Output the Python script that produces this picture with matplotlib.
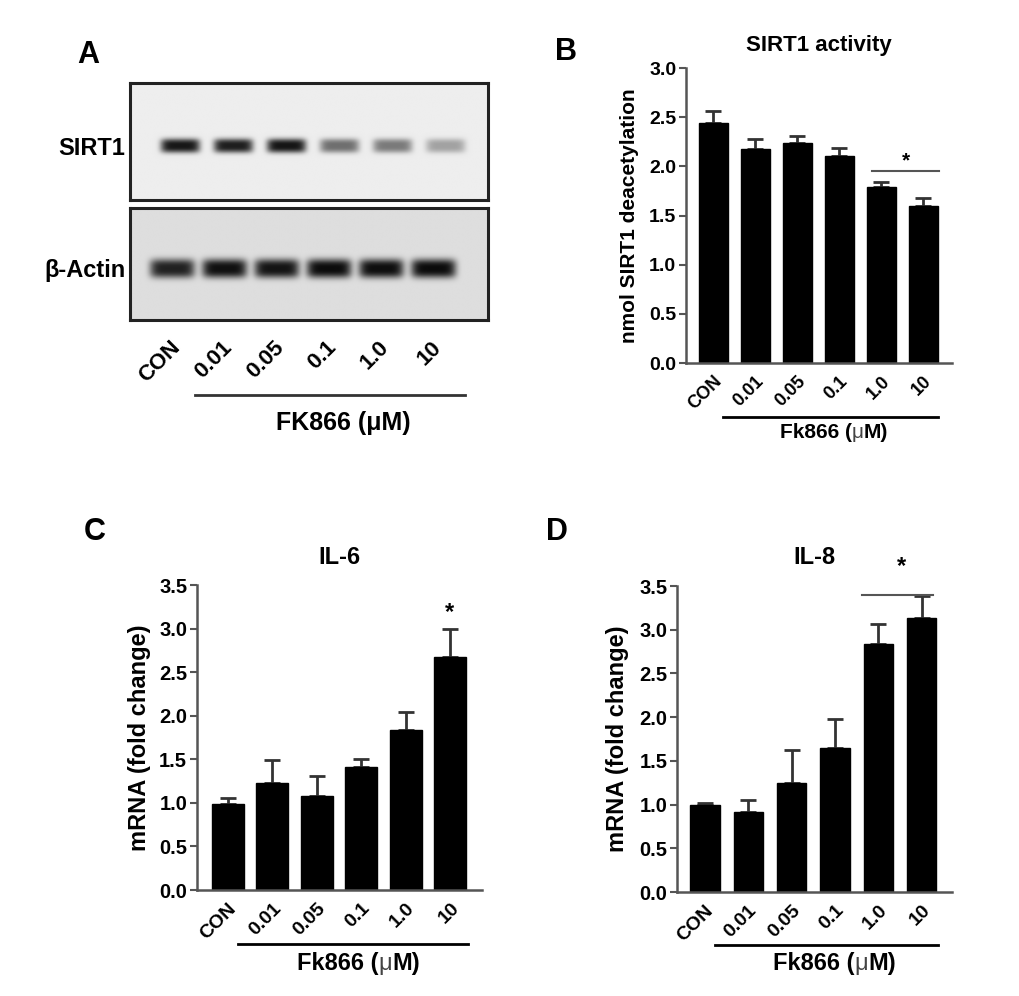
import matplotlib
matplotlib.use("Agg")
import matplotlib.pyplot as plt
import numpy as np

plt.rcParams['font.family'] = ['Liberation Sans', 'DejaVu Sans']
plt.rcParams['font.weight'] = 'bold'
plt.rcParams['axes.labelweight'] = 'bold'

# data
lanes = ['CON', '0.01', '0.05', '0.1', '1.0', '10']
sirt1_act = [2.44, 2.18, 2.24, 2.11, 1.79, 1.60]
sirt1_err = [0.12, 0.10, 0.07, 0.08, 0.05, 0.08]
il6 = [0.99, 1.23, 1.08, 1.41, 1.84, 2.67]
il6_err = [0.07, 0.26, 0.23, 0.09, 0.20, 0.33]
il8 = [0.99, 0.915, 1.25, 1.65, 2.84, 3.13]
il8_err = [0.03, 0.135, 0.37, 0.33, 0.23, 0.26]
# relative band darkness on the blot (0 = none, 1 = black)
sirt1_band = [0.93, 0.90, 0.94, 0.55, 0.50, 0.33]
actin_band = [0.88, 0.96, 0.94, 0.98, 0.97, 0.98]

fig = plt.figure(figsize=(10.2, 9.96), dpi=100)
x = np.arange(len(lanes))
spine_c = '#555555'


def blot(ax, dark, xlim, yc, hw, hh, bg):
    xs = np.linspace(xlim[0], xlim[1], 500)
    ys = np.linspace(0, 1, 200)
    X, Y = np.meshgrid(xs, ys)
    img = np.full(X.shape, bg)
    for i, d in enumerate(dark):
        prof = d * np.exp(-((X - i) / hw) ** 6) * np.exp(-np.abs((Y - yc) / hh) ** 3)
        img = img - (bg - 0.03) * prof
    ax.imshow(img, cmap='gray', vmin=0, vmax=1, extent=(xlim[0], xlim[1], 0, 1),
              origin='lower', aspect='auto', interpolation='bilinear')
    ax.set_xlim(xlim)
    ax.set_ylim(0, 1)
    ax.set_xticks([])
    ax.set_yticks([])
    for s in ax.spines.values():
        s.set_linewidth(2.2)
        s.set_color('#222222')


def unit_label(ax, xl, y, fs):
    # "Fk866 (µM)" with a thin mu, as in the original
    tr = ax.get_xaxis_transform()
    t = ax.text(xl, y, 'Fk866 (', transform=tr, ha='left', va='center', fontsize=fs)
    t2 = ax.annotate('μ', xy=(1, 0), xycoords=t, ha='left', va='bottom',
                     fontsize=fs, fontweight='normal', color='#444444')
    ax.annotate('M)', xy=(1, 0), xycoords=t2, ha='left', va='bottom', fontsize=fs)


# ---- panel A: western blot
axt = fig.add_axes([0.1275, 0.7992, 0.3510, 0.1175])
blot(axt, sirt1_band, (-0.943, 5.81), 0.46, 0.37, 0.06, 0.93)
axt.text(-0.014, 0.444, 'SIRT1', transform=axt.transAxes, ha='right', va='center', fontsize=17)
axb = fig.add_axes([0.1275, 0.6787, 0.3510, 0.1124])
blot(axb, actin_band, (-0.805, 6.054), 0.46, 0.43, 0.085, 0.87)
axb.text(-0.011, 0.446, 'β-Actin', transform=axb.transAxes, ha='right', va='center', fontsize=17)
for i, lab in enumerate(lanes):
    axb.text(i - 0.05, -0.15, lab, transform=axb.get_xaxis_transform(), rotation=45,
             rotation_mode='anchor', ha='right', va='top', fontsize=16)
axb.plot([0.44, 5.61], [-0.67, -0.67], color='#333333', lw=2, clip_on=False,
         transform=axb.get_xaxis_transform())
axb.text(3.28, -0.92, 'FK866 (μM)', transform=axb.get_xaxis_transform(),
         ha='center', va='center', fontsize=18)


def bars(rect, vals, errs, xlim, width, ymax, ylabel, title, fs):
    ax = fig.add_axes(rect)
    ax.bar(x, vals, width=width, color='black', edgecolor='black', zorder=2)
    ax.errorbar(x, vals, yerr=[np.zeros(len(vals)), errs], fmt='none',
                ecolor='#333333', elinewidth=2, capsize=6, capthick=2, zorder=1)
    ax.set_xlim(xlim)
    ax.set_ylim(0, ymax)
    ax.set_yticks(np.arange(0, ymax + 0.01, 0.5))
    ax.set_yticklabels(['%.1f' % v for v in np.arange(0, ymax + 0.01, 0.5)])
    ax.set_xticks(x)
    ax.set_xticklabels(lanes, rotation=45, ha='right', rotation_mode='anchor')
    ax.tick_params(axis='x', length=0, pad=7, labelsize=fs['lane'])
    ax.tick_params(axis='y', length=5, width=1.5, color=spine_c, pad=2, labelsize=fs['tick'])
    for s in ['top', 'right']:
        ax.spines[s].set_visible(False)
    for s in ['left', 'bottom']:
        ax.spines[s].set_color(spine_c)
        ax.spines[s].set_linewidth(1.8)
    ax.set_ylabel(ylabel, fontsize=fs['label'], va='center')
    ax.text(0.5, fs['ty'], title, transform=ax.transAxes, ha='center', va='center',
            fontsize=fs['title'])
    return ax


# ---- panel B
axB = bars([0.6725, 0.6355, 0.2608, 0.2962], sirt1_act, sirt1_err, (-0.656, 5.69), 0.69,
           3.0, 'nmol SIRT1 deacetylation', 'SIRT1 activity',
           {'tick': 14, 'lane': 13, 'label': 15, 'title': 16, 'ty': 1.075})
axB.yaxis.set_label_coords(-56 / 266, 0.5)
tr = axB.get_xaxis_transform()
axB.plot([0.23, 5.36], [-0.183, -0.183], color='black', lw=2, clip_on=False, transform=tr)
unit_label(axB, 1.59, -0.234, 15)
axB.plot([3.78, 5.38], [1.95, 1.95], color='#555555', lw=1.5)
axB.text(4.6, 2.06, '*', ha='center', va='center', fontsize=15)

# ---- panel C
axC = bars([0.1931, 0.1064, 0.2794, 0.3062], il6, il6_err, (-0.697, 5.71), 0.72,
           3.5, 'mRNA (fold change)', 'IL-6',
           {'tick': 14.5, 'lane': 14, 'label': 17, 'title': 17, 'ty': 1.089})
axC.yaxis.set_label_coords(-57 / 285, 0.5)
tr = axC.get_xaxis_transform()
axC.plot([0.225, 5.39], [-0.177, -0.177], color='black', lw=2, clip_on=False, transform=tr)
unit_label(axC, 1.55, -0.24, 17)
axC.text(4.99, 3.18, '*', ha='center', va='center', fontsize=17)

# ---- panel D
axD = bars([0.6637, 0.1044, 0.2696, 0.3072], il8, il8_err, (-0.647, 5.70), 0.68,
           3.5, 'mRNA (fold change)', 'IL-8',
           {'tick': 14.5, 'lane': 14, 'label': 17, 'title': 17, 'ty': 1.092})
axD.yaxis.set_label_coords(-59 / 275, 0.5)
tr = axD.get_xaxis_transform()
axD.plot([0.23, 5.37], [-0.173, -0.173], color='black', lw=2, clip_on=False, transform=tr)
unit_label(axD, 1.57, -0.232, 17)
axD.plot([3.63, 5.27], [3.40, 3.40], color='#555555', lw=1.5, clip_on=False)
axD.text(4.53, 3.72, '*', ha='center', va='center', fontsize=17)

# panel letters
for lab, px, py in [('A', 88, 55), ('B', 566, 52), ('C', 95, 532), ('D', 557, 532)]:
    fig.text(px / 1020, 1 - py / 996, lab, ha='center', va='center', fontsize=22)

fig.savefig('out.png', dpi=100)
